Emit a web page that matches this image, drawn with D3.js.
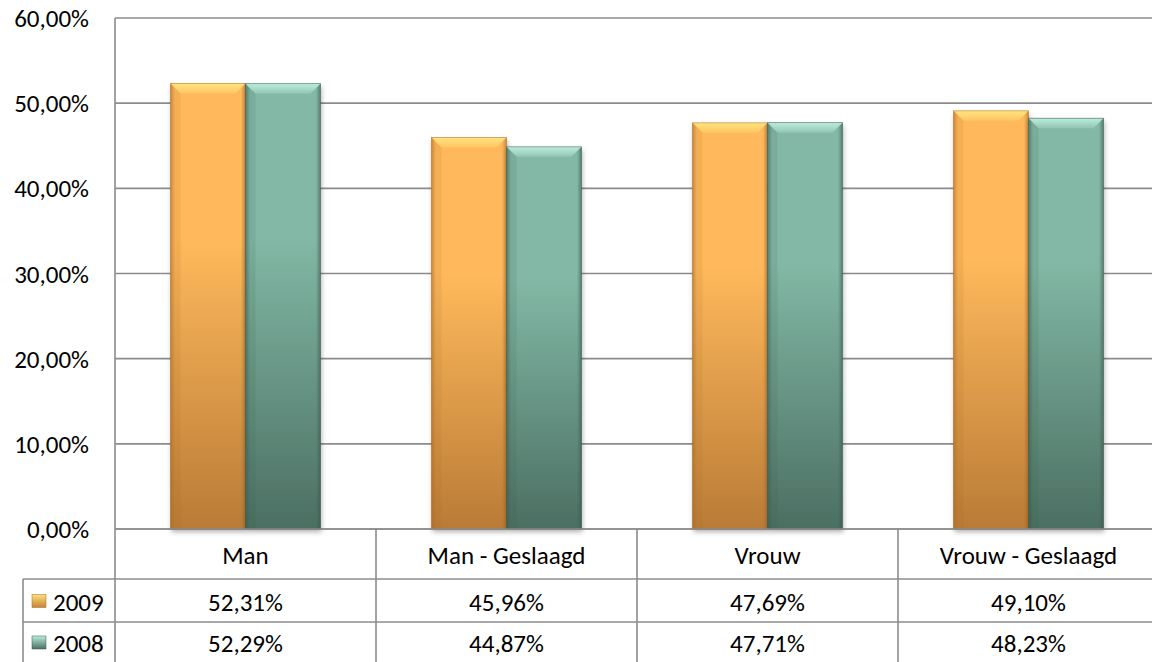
<!DOCTYPE html>
<html><head><meta charset="utf-8">
<script src="https://cdn.jsdelivr.net/npm/d3@7"></script>
<style>body{margin:0;background:#fff}svg{display:block}text{font-family:Carlito,Lato,"Open Sans",sans-serif;fill:#000}</style>
</head><body><svg id="c" width="1152" height="662"></svg>
<script>
const categories = ["Man", "Man - Geslaagd", "Vrouw", "Vrouw - Geslaagd"];
const seriesNames = ["2009", "2008"];
const values2009 = [0.5231, 0.4596, 0.4769, 0.4910];
const values2008 = [0.5229, 0.4487, 0.4771, 0.4823];
const yTicks = [0, 0.1, 0.2, 0.3, 0.4, 0.5, 0.6];
const seriesValues = [values2009, values2008];

const svg = d3.select("#c");
const W = 1152, H = 662;
const plotLeft = 115, plotTop = 18, axisY = 529, row1 = 579, row2 = 622;
const band = 261;
const fs = 25;
const x0 = d3.scaleBand().domain(categories).range([plotLeft, plotLeft + band * categories.length]);
const x1 = d3.scaleBand().domain(seriesNames).range([0, x0.bandwidth()]).paddingInner(0).paddingOuter(0.74);
const y = d3.scaleLinear().domain([0, 0.6]).range([axisY, plotTop]);
const fmt = v => d3.format(".2f")(v * 100).replace(".", ",") + "%";

const defs = svg.append("defs");
const pal = {
  "2009": {top: "#ffb95c", bot: "#b97b36", bevel: "#ffe47e", edge: "#a86a25", key: ["#ffe07a", "#c48538"]},
  "2008": {top: "#82b8a5", bot: "#4b6f62", bevel: "#bdeedd", edge: "#37574b", key: ["#b8eedc", "#4b6f62"]}
};
seriesNames.forEach((s, i) => {
  const g = defs.append("linearGradient").attr("id", "g" + i).attr("x1", 0).attr("y1", 0).attr("x2", 0).attr("y2", 1);
  g.append("stop").attr("offset", "0%").attr("stop-color", pal[s].top);
  g.append("stop").attr("offset", "35%").attr("stop-color", pal[s].top);
  g.append("stop").attr("offset", "100%").attr("stop-color", pal[s].bot);
  const h = defs.append("linearGradient").attr("id", "h" + i).attr("x1", 0).attr("y1", 0).attr("x2", 1).attr("y2", 0);
  h.append("stop").attr("offset", "0%").attr("stop-color", pal[s].edge).attr("stop-opacity", 0.55);
  h.append("stop").attr("offset", "6%").attr("stop-color", pal[s].edge).attr("stop-opacity", 0);
  h.append("stop").attr("offset", "94%").attr("stop-color", pal[s].edge).attr("stop-opacity", 0);
  h.append("stop").attr("offset", "100%").attr("stop-color", pal[s].edge).attr("stop-opacity", 0.6);
  const k = defs.append("linearGradient").attr("id", "k" + i).attr("x1", 0).attr("y1", 0).attr("x2", 0).attr("y2", 1);
  k.append("stop").attr("offset", "0%").attr("stop-color", pal[s].key[0]);
  k.append("stop").attr("offset", "100%").attr("stop-color", pal[s].key[1]);
  const b = defs.append("linearGradient").attr("id", "b" + i).attr("x1", 0).attr("y1", 0).attr("x2", 0).attr("y2", 1);
  b.append("stop").attr("offset", "0%").attr("stop-color", pal[s].bevel).attr("stop-opacity", 1);
  b.append("stop").attr("offset", "100%").attr("stop-color", pal[s].bevel).attr("stop-opacity", 0.25);
});
const f = defs.append("filter").attr("id", "sh").attr("x", "-20%").attr("y", "-5%").attr("width", "140%").attr("height", "115%");
f.append("feDropShadow").attr("dx", 1).attr("dy", 3).attr("stdDeviation", 2.5).attr("flood-color", "#000").attr("flood-opacity", 0.3);

const grid = "#8c8c8c";
svg.append("g").selectAll("line").data(yTicks).join("line")
  .attr("x1", plotLeft).attr("x2", W).attr("y1", d => y(d)).attr("y2", d => y(d))
  .attr("stroke", grid).attr("stroke-width", 1.6);
svg.append("g").selectAll("text").data(yTicks).join("text")
  .attr("x", 89).attr("y", d => y(d)).attr("dy", "0.36em").attr("text-anchor", "end")
  .attr("font-size", fs).text(d => fmt(d));

const gb = svg.append("g");
categories.forEach((c, ci) => {
  seriesNames.forEach((s, si) => {
    const v = seriesValues[si][ci];
    const bx = x0(c) + x1(s), bw = x1.bandwidth(), by = y(v), bh = y(0) - y(v);
    const g = gb.append("g");
    g.append("rect").attr("x", bx).attr("y", by).attr("width", bw).attr("height", bh)
      .attr("fill", `url(#g${si})`).attr("filter", "url(#sh)");
    g.append("rect").attr("x", bx).attr("y", by).attr("width", bw).attr("height", bh)
      .attr("fill", `url(#h${si})`);
    const bv = 10;
    g.append("path").attr("d", `M${bx},${by}L${bx + bw},${by}L${bx + bw - bv},${by + bv}L${bx + bv},${by + bv}Z`)
      .attr("fill", `url(#b${si})`);
    g.append("path").attr("d", `M${bx},${by}L${bx + bv},${by + bv}L${bx + bv},${by + bh}L${bx},${by + bh}Z`)
      .attr("fill", pal[s].edge).attr("opacity", 0.12);
    g.append("rect").attr("x", bx).attr("y", by).attr("width", bw).attr("height", bh)
      .attr("fill", "none").attr("stroke", pal[s].edge).attr("stroke-width", 0.8).attr("stroke-opacity", 0.6);
  });
});

const tl = svg.append("g").attr("stroke", grid).attr("stroke-width", 1.6);
tl.append("line").attr("x1", plotLeft).attr("x2", W).attr("y1", axisY).attr("y2", axisY);
tl.append("line").attr("x1", plotLeft).attr("x2", plotLeft).attr("y1", plotTop).attr("y2", H);
tl.append("line").attr("x1", 23).attr("x2", W).attr("y1", row1).attr("y2", row1);
tl.append("line").attr("x1", 23).attr("x2", W).attr("y1", row2).attr("y2", row2);
tl.append("line").attr("x1", 23).attr("x2", 23).attr("y1", row1).attr("y2", H);
categories.slice(1).forEach(c => {
  tl.append("line").attr("x1", x0(c)).attr("x2", x0(c)).attr("y1", axisY).attr("y2", H);
});

svg.append("g").selectAll("text").data(categories).join("text")
  .attr("x", d => x0(d) + x0.bandwidth() / 2).attr("y", (axisY + row1) / 2 + 1).attr("dy", "0.36em")
  .attr("text-anchor", "middle").attr("font-size", fs).text(d => d);
const rowsY = [(row1 + row2) / 2 + 1, (row2 + H) / 2 + 1];
seriesNames.forEach((s, si) => {
  svg.append("g").selectAll("text").data(categories).join("text")
    .attr("x", d => x0(d) + x0.bandwidth() / 2).attr("y", rowsY[si]).attr("dy", "0.36em")
    .attr("text-anchor", "middle").attr("font-size", fs).text((d, i) => fmt(seriesValues[si][i]));
  svg.append("rect").attr("x", 32).attr("y", rowsY[si] - 7).attr("width", 14).attr("height", 13)
    .attr("fill", `url(#k${si})`).attr("stroke", pal[s].edge).attr("stroke-width", 0.5);
  svg.append("text").attr("x", 53).attr("y", rowsY[si]).attr("dy", "0.36em").attr("font-size", fs).text(s);
});
</script></body></html>
